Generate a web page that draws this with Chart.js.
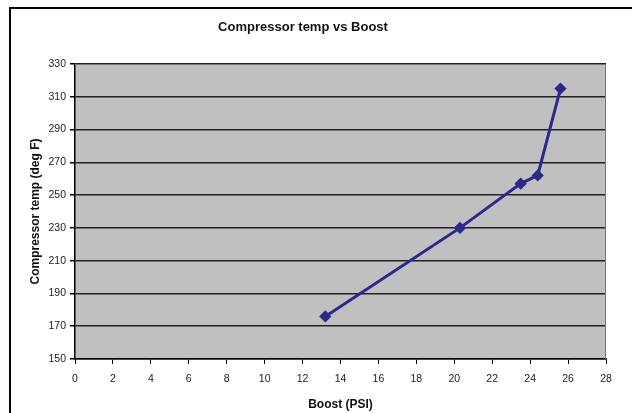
<!DOCTYPE html>
<html>
<head>
<meta charset="utf-8">
<script src="https://cdn.jsdelivr.net/npm/chart.js@4/dist/chart.umd.min.js"></script>
<style>
  html, body { margin: 0; padding: 0; background: #fff; }
  #wrap { width: 632px; height: 413px; position: relative; }
</style>
</head>
<body>
<div id="wrap"><canvas id="chart" width="632" height="413"></canvas></div>
<script>
const boost = [13.2, 20.3, 23.5, 24.4, 25.6];
const temps = [176, 230, 257, 262, 315];
const xMin = 0, xMax = 28, xStep = 2;
const yMin = 150, yMax = 330, yStep = 20;

const points = boost.map((b, i) => ({ x: b, y: temps[i] }));

// grey plot area plus the frame around the chart object
const frame = {
  id: 'frame',
  beforeDraw(chart) {
    const ctx = chart.ctx;
    const a = chart.chartArea;
    ctx.save();
    ctx.fillStyle = '#c0c0c0';
    ctx.fillRect(a.left, a.top, a.right - a.left, a.bottom - a.top);
    ctx.strokeStyle = '#000';
    ctx.lineWidth = 2;
    ctx.beginPath();
    ctx.moveTo(10, chart.height);
    ctx.lineTo(10, 8);
    ctx.lineTo(chart.width, 8);
    ctx.stroke();
    ctx.restore();
  },
  afterDatasetsDraw(chart) {
    const ctx = chart.ctx;
    const a = chart.chartArea;
    ctx.save();
    ctx.strokeStyle = '#777';
    ctx.lineWidth = 1;
    ctx.beginPath();
    ctx.moveTo(a.left, a.top + 0.5);
    ctx.lineTo(a.right - 0.5, a.top + 0.5);
    ctx.lineTo(a.right - 0.5, a.bottom);
    ctx.stroke();
    ctx.restore();
  }
};

const tickFont = { family: 'Liberation Sans, Arial, sans-serif', size: 10.5 };
const titleFont = { family: 'Liberation Sans, Arial, sans-serif', size: 12, weight: 'bold' };

new Chart(document.getElementById('chart'), {
  type: 'scatter',
  data: {
    datasets: [{
      label: 'Compressor temp',
      data: points,
      showLine: true,
      borderColor: '#2a2a8c',
      backgroundColor: '#2a2a8c',
      borderWidth: 3,
      pointStyle: 'rectRot',
      pointRadius: 4,
      tension: 0
    }]
  },
  options: {
    responsive: false,
    animation: false,
    layout: { padding: { left: 0, right: 26, top: 0, bottom: 0 } },
    plugins: {
      legend: { display: false },
      tooltip: { enabled: false },
      title: {
        display: true,
        text: 'Compressor temp vs Boost',
        color: '#111',
        font: { family: 'Liberation Sans, Arial, sans-serif', size: 13, weight: 'bold' },
        padding: { top: 20, bottom: 28.4 }
      }
    },
    scales: {
      x: {
        type: 'linear',
        min: xMin, max: xMax,
        afterFit: s => { s.height = 54; },
        border: { display: true, color: '#000', width: 1.5 },
        grid: { drawOnChartArea: false, drawTicks: true, tickLength: 5, tickColor: '#000' },
        ticks: { stepSize: xStep, color: '#222', font: tickFont, padding: 9, maxRotation: 0 },
        title: { display: true, text: 'Boost (PSI)', color: '#111', font: titleFont, padding: { top: 0, bottom: 1 } }
      },
      y: {
        type: 'linear',
        min: yMin, max: yMax,
        afterFit: s => { s.width = 75; },
        border: { display: true, color: '#000', width: 1.5 },
        grid: { color: '#222', lineWidth: 1.5, drawTicks: true, tickLength: 5, tickColor: '#000' },
        ticks: { stepSize: yStep, color: '#222', font: tickFont, padding: 4 },
        title: { display: true, text: 'Compressor temp (deg F)', color: '#111', font: titleFont, padding: { top: 28, bottom: 0 } }
      }
    }
  },
  plugins: [frame]
});
</script>
</body>
</html>
